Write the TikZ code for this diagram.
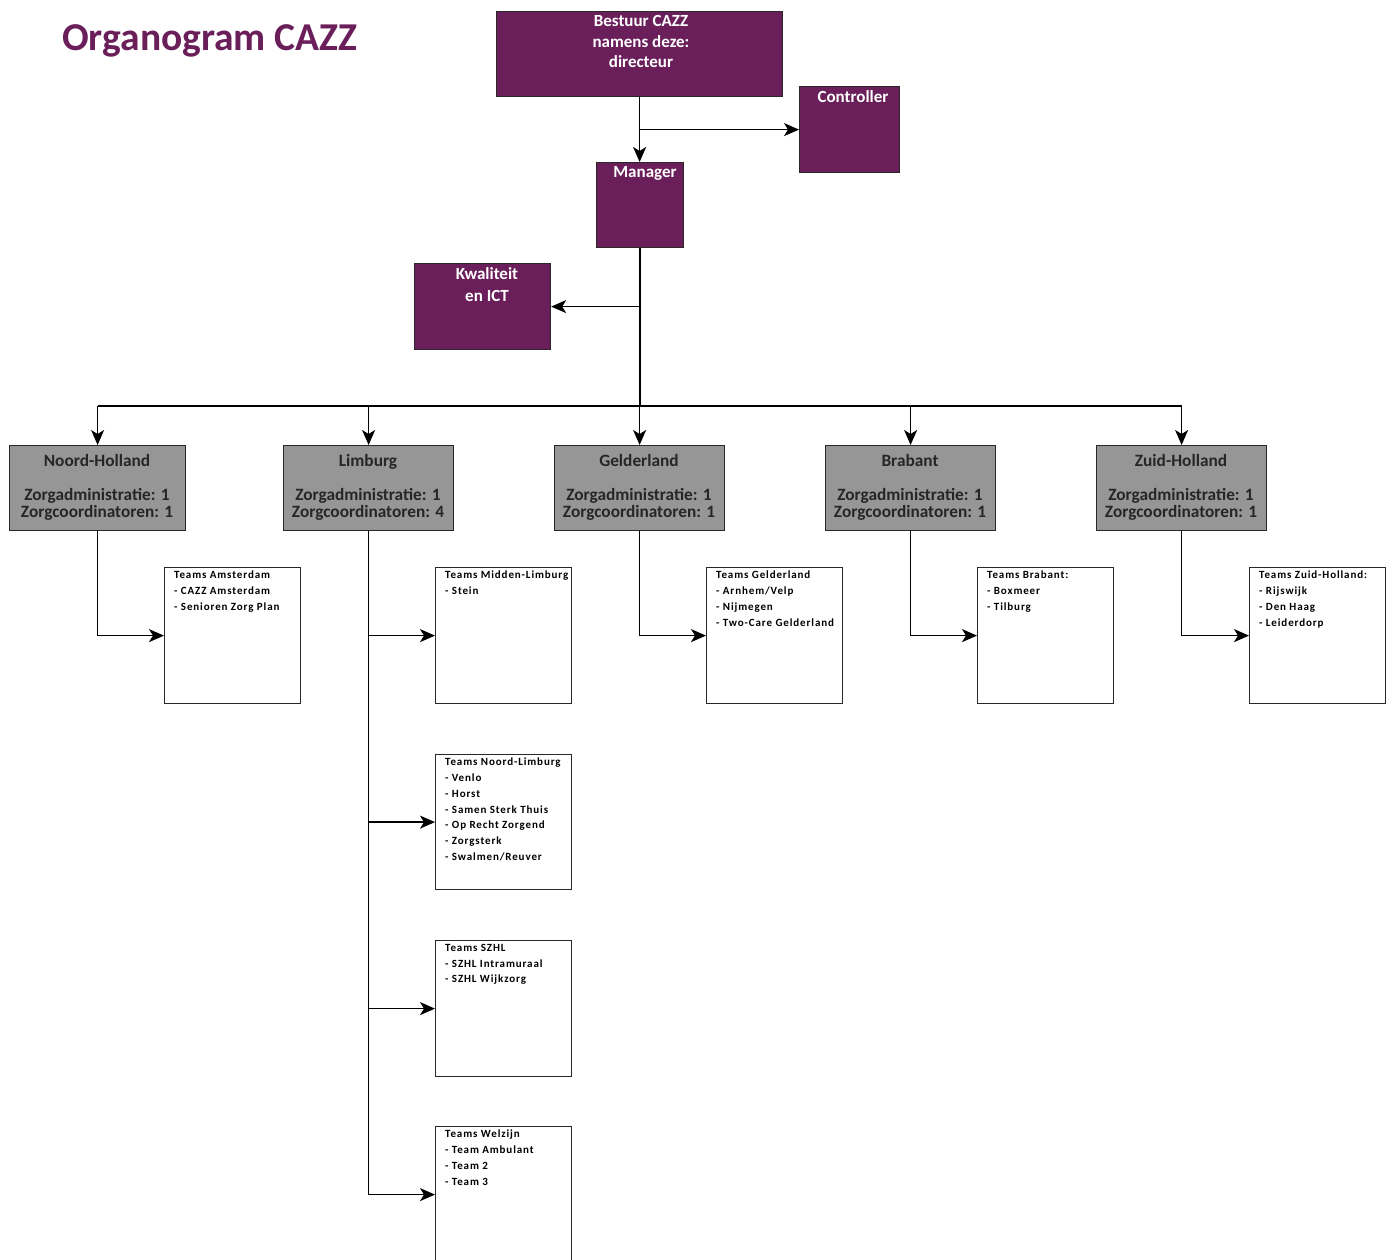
\documentclass[tikz,border=0pt]{standalone}
\usepackage{fontspec}
\setmainfont{Carlito}
\usetikzlibrary{arrows.meta}
\definecolor{cazz}{RGB}{106,31,90}
\definecolor{regiongrey}{RGB}{150,150,150}
\definecolor{edge}{RGB}{40,40,40}
\tikzset{
  pbox/.style={draw=edge, line width=1.2pt, fill=cazz, anchor=north west, inner sep=0pt},
  rbox/.style={draw=edge, line width=1.2pt, fill=regiongrey, anchor=north west, inner sep=0pt, minimum height=85pt},
  tbox/.style={draw=edge, line width=1.2pt, fill=white, anchor=north west, inner sep=0pt, minimum width=136pt, minimum height=136pt},
  ptext/.style={anchor=north, inner sep=0pt, align=center, text=white, font=\bfseries\fontsize{17}{20.8}\selectfont},
  rtext/.style={anchor=north, inner sep=0pt, align=center, text=black!85, font=\bfseries\fontsize{17.3}{17}\selectfont},
  ttext/.style={anchor=north west, inner sep=0pt, align=left, text=black, font=\bfseries\addfontfeatures{LetterSpace=8}\fontsize{11}{15.7}\selectfont},
  line/.style={line width=1.5pt, draw=black},
  conn/.style={line width=1.5pt, draw=black, -{Stealth[length=15pt,width=13pt,inset=4pt]}}
}
\begin{document}
\begin{tikzpicture}[x=1pt,y=-1pt]
\useasboundingbox (0,0) rectangle (1394,1259);
\fill[white] (0,0) rectangle (1394,1259);
% title
\node[anchor=base west, inner sep=0pt, text=cazz, font=\bfseries\fontsize{39.5}{44}\selectfont] (title) at (62,50) {Organogram CAZZ};
% top boxes
\node[pbox, minimum width=286pt, minimum height=85pt] (bestuur) at (496,11) {};
\node[ptext] (bestuurT) at (641,15) {Bestuur CAZZ\\namens deze:\\directeur};
\node[pbox, minimum width=100pt, minimum height=86pt] (controller) at (799,86) {};
\node[ptext] (controllerT) at (853,90) {Controller};
\node[pbox, minimum width=87pt, minimum height=85pt] (manager) at (596,162) {};
\node[ptext] (managerT) at (645,166) {Manager};
\node[pbox, minimum width=136pt, minimum height=86pt] (kwal) at (414,263) {};
\node[ptext, font=\bfseries\fontsize{17}{22}\selectfont] (kwalT) at (487,267) {Kwaliteit\\en ICT};
% connectors top
\draw[conn] (bestuur.south) -- (bestuur.south |- manager.north);
\draw[conn] (bestuur.south |- controller.west) -- (controller.west);
\draw[conn] (manager.south |- kwal.east) -- (kwal.east);
\coordinate (bus) at (640,406);
\draw[line] (manager.south) -- (manager.south |- bus);
% regions
\node[rbox, minimum width=176pt] (nh) at (9,445) {};
\node[rtext] (nhT) at (97,454) {Noord-Holland\\[17pt]Zorgadministratie: 1\\Zorgcoordinatoren: 1};
\node[rbox, minimum width=170pt] (lim) at (283,445) {};
\node[rtext] (limT) at (368,454) {Limburg\\[17pt]Zorgadministratie: 1\\Zorgcoordinatoren: 4};
\node[rbox, minimum width=170pt] (gel) at (554,445) {};
\node[rtext] (gelT) at (639,454) {Gelderland\\[17pt]Zorgadministratie: 1\\Zorgcoordinatoren: 1};
\node[rbox, minimum width=170pt] (bra) at (825,445) {};
\node[rtext] (braT) at (910,454) {Brabant\\[17pt]Zorgadministratie: 1\\Zorgcoordinatoren: 1};
\node[rbox, minimum width=170pt] (zh) at (1096,445) {};
\node[rtext] (zhT) at (1181,454) {Zuid-Holland\\[17pt]Zorgadministratie: 1\\Zorgcoordinatoren: 1};
\draw[line] (nh.north |- bus) -- (zh.north |- bus);
\foreach \r in {nh,lim,gel,bra,zh} {\draw[conn] (\r.north |- bus) -- (\r.north);}
% team boxes
\node[tbox] (tnh) at (164,567) {};
\node[ttext] (tnhT) at (174,571) {Teams Amsterdam\\- CAZZ Amsterdam\\- Senioren Zorg Plan};
\node[tbox] (tl1) at (435,567) {};
\node[ttext] (tl1T) at (445,571) {Teams Midden-Limburg\\- Stein};
\node[tbox, minimum height=135pt] (tl2) at (435,754) {};
\node[ttext] (tl2T) at (445,758) {Teams Noord-Limburg\\- Venlo\\- Horst\\- Samen Sterk Thuis\\- Op Recht Zorgend\\- Zorgsterk\\- Swalmen/Reuver};
\node[tbox] (tl3) at (435,940) {};
\node[ttext] (tl3T) at (445,944) {Teams SZHL\\- SZHL Intramuraal\\- SZHL Wijkzorg};
\node[tbox] (tl4) at (435,1126) {};
\node[ttext] (tl4T) at (445,1130) {Teams Welzijn\\- Team Ambulant\\- Team 2\\- Team 3};
\node[tbox] (tgel) at (706,567) {};
\node[ttext] (tgelT) at (716,571) {Teams Gelderland\\- Arnhem/Velp\\- Nijmegen\\- Two-Care Gelderland};
\node[tbox] (tbra) at (977,567) {};
\node[ttext] (tbraT) at (987,571) {Teams Brabant:\\- Boxmeer\\- Tilburg};
\node[tbox] (tzh) at (1249,567) {};
\node[ttext] (tzhT) at (1259,571) {Teams Zuid-Holland:\\- Rijswijk\\- Den Haag\\- Leiderdorp};
% region to team connectors
\draw[conn] (nh.south) |- (tnh.west);
\draw[conn] (gel.south) |- (tgel.west);
\draw[conn] (bra.south) |- (tbra.west);
\draw[conn] (zh.south) |- (tzh.west);
\draw[line] (lim.south) -- (lim.south |- tl4.west);
\foreach \t in {tl1,tl2,tl3,tl4} {\draw[conn] (lim.south |- \t.west) -- (\t.west);}
\end{tikzpicture}
\end{document}
